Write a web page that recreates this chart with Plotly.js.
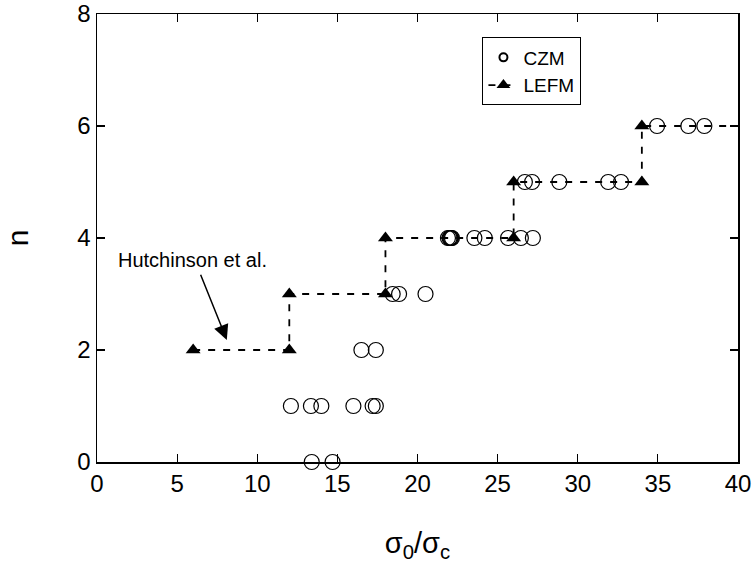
<!DOCTYPE html>
<html>
<head>
<meta charset="utf-8">
<script src="https://cdn.plot.ly/plotly-3.0.1.min.js"></script>
<style>html,body{margin:0;padding:0;background:#fff}#chart{width:756px;height:563px}</style>
</head>
<body>
<div id="chart"></div>
<script>
// CZM results (sigma0/sigmac, n)
const czmX = [13.4, 14.7,
  12.1, 13.35, 14.0, 16.0, 17.2, 17.4,
  16.5, 17.4,
  18.45, 18.85, 20.5,
  21.9, 22.0, 22.05, 22.1, 22.15, 23.55, 24.2, 25.65, 26.45, 27.2,
  26.7, 27.15, 28.85, 31.9, 32.7,
  34.95, 36.9, 37.9];
const czmY = [0, 0,
  1, 1, 1, 1, 1, 1,
  2, 2,
  3, 3, 3,
  4, 4, 4, 4, 4, 4, 4, 4, 4, 4,
  5, 5, 5, 5, 5,
  6, 6, 6];
// LEFM step line (Hutchinson et al.)
const lefmX = [6, 12, 12, 18, 18, 26, 26, 34, 34, 40];
const lefmY = [2, 2, 3, 3, 4, 4, 5, 5, 6, 6];
const lefmHasMarker = [1, 1, 1, 1, 1, 1, 1, 1, 1, 0];
const xTicks = [0, 5, 10, 15, 20, 25, 30, 35, 40];
const yTicks = [0, 2, 4, 6, 8];

const font = 'Liberation Sans, Arial, Helvetica, sans-serif';
const triSize = 13;

const traces = [
  {
    x: czmX, y: czmY, name: 'CZM', type: 'scatter', mode: 'markers', showlegend: false,
    marker: {symbol: 'circle-open', size: 15, color: '#000', opacity: 1, line: {width: 1.2, color: '#000'}},
    cliponaxis: false
  },
  {
    x: lefmX, y: lefmY, name: 'LEFM', type: 'scatter', mode: 'lines+markers', showlegend: false,
    line: {color: '#000', width: 1.8, dash: '7px,8px'},
    marker: {symbol: 'triangle-up', size: lefmHasMarker.map(v => v * triSize), color: '#000', opacity: 1,
             line: {width: 0}},
    cliponaxis: false
  },
  // legend entries
  {
    x: [null], y: [null], name: 'CZM', type: 'scatter', mode: 'markers',
    marker: {symbol: 'circle-open', size: 8, color: '#000', line: {width: 2, color: '#000'}}
  },
  {
    x: [null], y: [null], name: 'LEFM', type: 'scatter', mode: 'lines+markers',
    line: {color: '#000', width: 1.8, dash: '7px,8px'},
    marker: {symbol: 'triangle-up', size: 12, color: '#000'}
  }
];

const layout = {
  width: 756, height: 563,
  margin: {l: 97, r: 18, t: 14, b: 101},
  paper_bgcolor: '#fff', plot_bgcolor: '#fff',
  font: {family: font, color: '#000'},
  showlegend: true,
  legend: {
    x: 0.601, y: 0.948, xanchor: 'left', yanchor: 'top',
    bordercolor: '#000', borderwidth: 1.2, bgcolor: '#fff',
    font: {size: 19, family: font}, tracegroupgap: 0, itemwidth: 30
  },
  xaxis: {
    range: [0, 40], tickvals: xTicks, ticktext: xTicks.map(String),
    ticks: 'inside', ticklen: 8, tickwidth: 1.2, tickcolor: '#000',
    showline: true, linecolor: '#000', linewidth: 1.5, mirror: 'ticks',
    showgrid: false, zeroline: false,
    tickfont: {size: 24, family: font},
    title: {text: 'σ<sub>0</sub>/σ<sub>c</sub>', font: {size: 29, family: font}, standoff: 36}
  },
  yaxis: {
    range: [0, 8], tickvals: yTicks, ticktext: yTicks.map(String),
    ticks: 'inside', ticklen: 8, tickwidth: 1.2, tickcolor: '#000',
    showline: true, linecolor: '#000', linewidth: 1.5, mirror: 'ticks',
    showgrid: false, zeroline: false,
    tickfont: {size: 24, family: font},
    title: {text: 'n', font: {size: 30, family: font}, standoff: 40}
  },
  annotations: [
    {
      x: 8.1, y: 2.18, xref: 'x', yref: 'y',
      ax: 6.43, ay: 3.37, axref: 'x', ayref: 'y',
      text: '', showarrow: true, arrowhead: 2, arrowsize: 2, arrowwidth: 1.5, arrowcolor: '#000'
    },
    {
      x: 5.95, y: 3.6, xref: 'x', yref: 'y', xanchor: 'center', yanchor: 'middle',
      text: 'Hutchinson et al.', showarrow: false, font: {size: 20, family: font, color: '#000'}
    }
  ]
};

Plotly.newPlot('chart', traces, layout, {displayModeBar: false, staticPlot: true});
</script>
</body>
</html>
